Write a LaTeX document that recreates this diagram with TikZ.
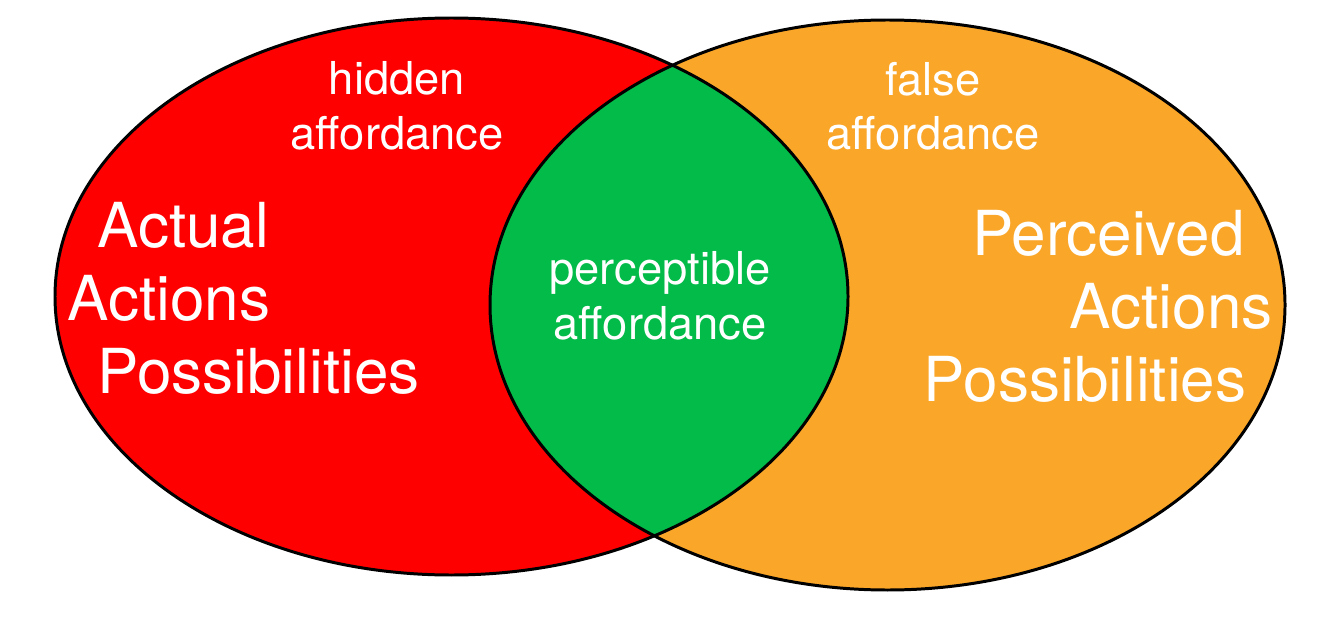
\documentclass[tikz,border=0pt]{standalone}
\usepackage{fontspec}
\setmainfont{TeX Gyre Heros}
\usepackage{tikz}

\definecolor{actualred}{RGB}{254,0,0}
\definecolor{perceivedorange}{RGB}{250,166,40}
\definecolor{perceptgreen}{RGB}{3,187,72}

\begin{document}
\begin{tikzpicture}[x=0.02cm, y=0.02cm,
  smalltext/.style={text=white, inner sep=0pt, align=center, font=\fontsize{25.8}{31}\selectfont},
  bigtext/.style={text=white, inner sep=0pt, font=\fontsize{35.3}{41.5}\selectfont},
  outline/.style={draw=black, line width=1.7pt}]

\useasboundingbox (0,0) rectangle (1334,-628);

\coordinate (actual) at (451.5,-296.5);
\coordinate (perceived) at (887.5,-305);

% the two sets
\fill[actualred] (actual) ellipse [x radius=396.5, y radius=278.5];
\fill[perceivedorange] (perceived) ellipse [x radius=397.5, y radius=285];
\begin{scope}
  \clip (actual) ellipse [x radius=396.5, y radius=278.5];
  \fill[perceptgreen] (perceived) ellipse [x radius=397.5, y radius=285];
\end{scope}
\draw[outline] (actual) ellipse [x radius=396.5, y radius=278.5];
\draw[outline] (perceived) ellipse [x radius=397.5, y radius=285];

% labels
\node[smalltext] (hidden) at (397,-106) {hidden\\affordance};
\node[smalltext] (false) at (933,-106) {false\\affordance};
\node[smalltext] (percept) at (660,-296) {perceptible\\affordance};
\node[bigtext, anchor=west, align=left] (actualtxt) at (67,-298)
  {\hspace*{17pt}Actual\\Actions\\\hspace*{17pt}Possibilities};
\node[bigtext, anchor=east, align=right] (perceivedtxt) at (1273,-306)
  {Perceived\hspace*{16pt}\\Actions\\Possibilities\hspace*{15pt}};

\end{tikzpicture}
\end{document}
